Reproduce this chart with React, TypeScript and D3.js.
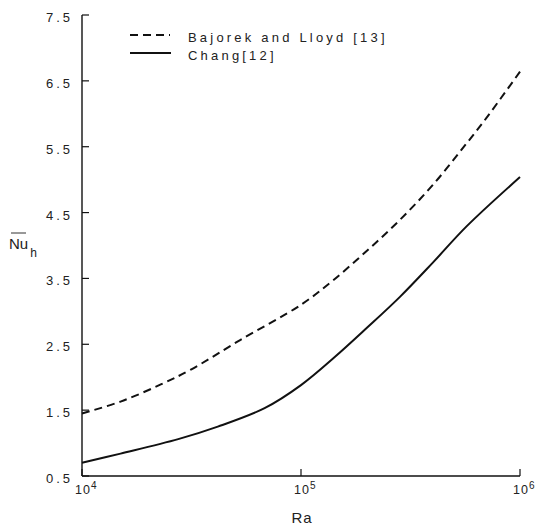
import React from "react";
import * as d3 from "d3";

// Data (Ra, mean Nusselt number)
const bajorekRa = [1e4, 15000, 22900, 31600, 52500, 1e5, 140000, 200000, 283000, 400000, 570000, 700000, 1e6];
const bajorekNu = [1.45, 1.63, 1.89, 2.12, 2.56, 3.1, 3.47, 3.92, 4.39, 4.92, 5.55, 5.93, 6.64];
const changRa = [1e4, 15000, 27500, 41700, 68200, 1e5, 143000, 200000, 283000, 400000, 570000, 1e6];
const changNu = [0.7, 0.84, 1.06, 1.25, 1.53, 1.88, 2.31, 2.75, 3.22, 3.74, 4.29, 5.04];

const yTicks = [0.5, 1.5, 2.5, 3.5, 4.5, 5.5, 6.5, 7.5];
const xTicks = [1e4, 1e5, 1e6];
const xTickExp = ["4", "5", "6"];
const legendLabels = ["Bajorek and Lloyd [13]", "Chang[12]"];

const W = 536;
const H = 529;
const FONT = "'Liberation Sans', Arial, sans-serif";

export default function App() {
  const x = d3.scaleLog().domain([1e4, 1e6]).range([82, 520]);
  const y = d3.scaleLinear().domain([0.5, 7.5]).range([476, 15]);

  const line = d3
    .line<[number, number]>()
    .x((d) => x(d[0]))
    .y((d) => y(d[1]))
    .curve(d3.curveCatmullRom.alpha(0.5));

  const dashed = line(bajorekRa.map((r, i) => [r, bajorekNu[i]] as [number, number])) || "";
  const solid = line(changRa.map((r, i) => [r, changNu[i]] as [number, number])) || "";

  const ink = "#111";

  return (
    <svg
      width={W}
      height={H}
      style={{ position: "absolute", left: 0, top: 0, background: "#fff" }}
      fontFamily={FONT}
    >
      <rect x={0} y={0} width={W} height={H} fill="#fff" />
      {/* axes */}
      <line x1={x(1e4)} x2={x(1e4)} y1={y(7.5)} y2={y(0.5)} stroke={ink} strokeWidth={1.4} />
      <line x1={x(1e4)} x2={x(1e6)} y1={y(0.5)} y2={y(0.5)} stroke={ink} strokeWidth={1.4} />
      {yTicks.map((t) => (
        <g key={t}>
          <line x1={x(1e4)} x2={x(1e4) + 7} y1={y(t)} y2={y(t)} stroke={ink} strokeWidth={1.2} />
          <text
            x={73}
            y={y(t) + 7}
            textAnchor="end"
            fontSize={13}
            letterSpacing={3}
            fill="#222"
          >
            {t.toFixed(1)}
          </text>
        </g>
      ))}
      {xTicks.map((t, i) => (
        <g key={t}>
          <line x1={x(t)} x2={x(t)} y1={y(0.5)} y2={y(0.5) - 7} stroke={ink} strokeWidth={1.2} />
          <text x={x(t) - 7} y={494} fontSize={12.5} letterSpacing={1} fill="#222">
            10
            <tspan dy={-5} fontSize={10}>
              {xTickExp[i]}
            </tspan>
          </text>
        </g>
      ))}
      {/* axis titles */}
      <text x={302} y={523} textAnchor="middle" fontSize={15} letterSpacing={1} fill="#222">
        Ra
      </text>
      <line x1={11} x2={26} y1={233} y2={233} stroke="#333" strokeWidth={1} />
      <text x={9} y={249} fontSize={15} fill="#222">
        Nu
        <tspan dx={2} dy={8} fontSize={12}>
          h
        </tspan>
      </text>
      {/* curves */}
      <path d={dashed} fill="none" stroke={ink} strokeWidth={2} strokeDasharray="8,5" />
      <path d={solid} fill="none" stroke={ink} strokeWidth={2} />
      {/* legend */}
      <line x1={130} x2={170} y1={35} y2={35} stroke={ink} strokeWidth={2} strokeDasharray="8,5" />
      <text x={188} y={42} fontSize={13} letterSpacing={3.2} fill="#222">
        {legendLabels[0]}
      </text>
      <line x1={130} x2={171} y1={53} y2={53} stroke={ink} strokeWidth={2} />
      <text x={188} y={60} fontSize={13} letterSpacing={3.2} fill="#222">
        {legendLabels[1]}
      </text>
    </svg>
  );
}
